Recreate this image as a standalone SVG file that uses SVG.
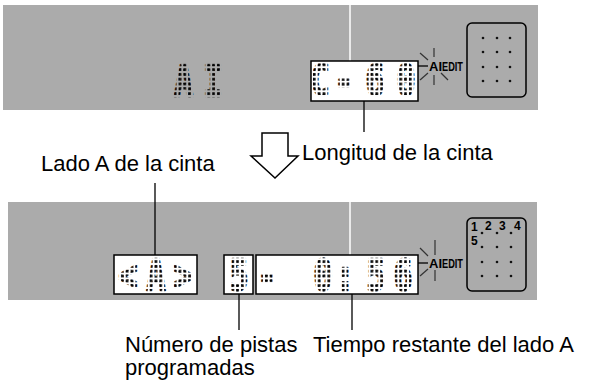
<svg xmlns="http://www.w3.org/2000/svg" width="593" height="382" viewBox="0 0 593 382">
<defs>
<pattern id="dm" patternUnits="userSpaceOnUse" width="6.4" height="4.8"><rect x="1.4" y="1.1" width="3.4" height="2.6" fill="#000"/></pattern>
<style>
.band{fill:#ababab}
.win{fill:#fff;stroke:#000;stroke-width:1.5}
.pad{fill:#ababab;stroke:#000;stroke-width:1.5}
.lcd{font-family:"DejaVu Sans Mono",monospace;font-weight:bold;font-size:42px;fill:url(#dm);stroke:url(#dm);stroke-width:2.6;stroke-linejoin:round;text-anchor:middle}
.lbl{font-family:"Liberation Sans",Arial,sans-serif;font-size:22px;fill:#000}
.badge{font-family:"Liberation Sans",Arial,sans-serif;font-weight:bold;fill:#000}
.ray{stroke:#333;stroke-width:1.2}
.ln{stroke:#000;stroke-width:1.3;fill:none}
.dot{fill:#111}
.num{font-family:"Liberation Sans",Arial,sans-serif;font-weight:bold;font-size:12px;fill:#000}
</style>
</defs>

<g id="panel-top">
<rect class="band" x="3" y="5" width="535" height="105"/>
<line x1="350" y1="5" x2="350" y2="61" stroke="#fff" stroke-width="1.5"/>
<g transform="scale(0.75,1)"><text class="lcd" x="244.7 284" y="96">AI</text></g>
<rect class="win" x="311" y="61" width="107" height="40"/>
<g transform="scale(0.75,1)"><text class="lcd" x="426.7 458.7 500 541.3" y="95">C-60</text></g>
<g id="badge-top">
<line class="ln" x1="418" y1="66" x2="428" y2="66"/>
<line class="ray" x1="434" y1="48" x2="434" y2="57"/>
<line class="ray" x1="420" y1="53" x2="428" y2="60"/>
<line class="ray" x1="420" y1="80" x2="428" y2="73"/>
<line class="ray" x1="434" y1="75" x2="434" y2="85"/>
<line class="ray" x1="448" y1="80" x2="441" y2="73"/>
<text class="badge" x="429" y="71" font-size="13">AI</text>
<text class="badge" x="442" y="71" font-size="12" textLength="21" lengthAdjust="spacingAndGlyphs">EDIT</text>
</g>
<rect class="pad" x="467" y="23" width="59" height="74" rx="5"/>
<g>
<circle class="dot" cx="483" cy="38" r="1.3"/><circle class="dot" cx="497" cy="38" r="1.3"/><circle class="dot" cx="510" cy="38" r="1.3"/>
<circle class="dot" cx="483" cy="52" r="1.3"/><circle class="dot" cx="497" cy="52" r="1.3"/><circle class="dot" cx="510" cy="52" r="1.3"/>
<circle class="dot" cx="483" cy="67" r="1.3"/><circle class="dot" cx="497" cy="67" r="1.3"/><circle class="dot" cx="510" cy="67" r="1.3"/>
<circle class="dot" cx="483" cy="81" r="1.3"/><circle class="dot" cx="497" cy="81" r="1.3"/><circle class="dot" cx="510" cy="81" r="1.3"/>
</g>
</g>

<g id="arrow">
<path d="M262,133 L288,133 L288,156 L298,156 L275,178 L251,156 L262,156 Z" fill="#fff" stroke="#000" stroke-width="1.5" stroke-linejoin="miter"/>
</g>

<g id="label-longitud"><text class="lbl" x="302" y="160">Longitud de la cinta</text></g>
<g id="label-lado"><text class="lbl" x="41" y="171">Lado A de la cinta</text></g>

<g id="panel-bottom">
<rect class="band" x="8" y="202" width="529" height="98"/>
<line x1="350" y1="202" x2="350" y2="255" stroke="#fff" stroke-width="1.5"/>
<rect class="win" x="114" y="255" width="83" height="39"/>
<g transform="scale(0.75,1)"><text class="lcd" x="170.7 208 244" y="290">&lt;A&gt;</text></g>
<rect class="win" x="224" y="255" width="29" height="39"/>
<g transform="scale(0.75,1)"><text class="lcd" x="318.7" y="290">5</text></g>
<rect class="win" x="256" y="255" width="162" height="39"/>
<g transform="scale(0.75,1)"><text class="lcd" x="356 430.7 460 501.3 537.3" y="290">-0:56</text></g>
<g id="badge-bottom">
<line class="ln" x1="418" y1="263" x2="428" y2="263"/>
<line class="ray" x1="435" y1="240" x2="435" y2="255"/>
<line class="ray" x1="420" y1="248" x2="428" y2="256"/>
<line class="ray" x1="420" y1="276" x2="428" y2="269"/>
<line class="ray" x1="435" y1="270" x2="435" y2="281"/>
<text class="badge" x="429" y="268" font-size="13">AI</text>
<text class="badge" x="442" y="268" font-size="12" textLength="21" lengthAdjust="spacingAndGlyphs">EDIT</text>
</g>
<rect class="pad" x="467" y="218" width="59" height="73" rx="5"/>
<text class="num" x="471" y="231">1</text>
<text class="num" x="485" y="230">2</text>
<text class="num" x="499" y="230">3</text>
<text class="num" x="514" y="230">4</text>
<text class="num" x="471" y="245">5</text>
<g>
<circle class="dot" cx="482" cy="233" r="1.3"/><circle class="dot" cx="497" cy="233" r="1.3"/><circle class="dot" cx="511" cy="233" r="1.3"/>
<circle class="dot" cx="482" cy="247" r="1.3"/><circle class="dot" cx="497" cy="247" r="1.3"/><circle class="dot" cx="511" cy="247" r="1.3"/>
<circle class="dot" cx="482" cy="262" r="1.3"/><circle class="dot" cx="497" cy="262" r="1.3"/><circle class="dot" cx="511" cy="262" r="1.3"/>
<circle class="dot" cx="482" cy="276" r="1.3"/><circle class="dot" cx="497" cy="276" r="1.3"/><circle class="dot" cx="511" cy="276" r="1.3"/>
</g>
</g>

<g id="label-numero"><text class="lbl" x="125" y="352">Número de pistas</text><text class="lbl" x="125" y="375">programadas</text></g>
<g id="label-tiempo"><text class="lbl" x="313" y="352">Tiempo restante del lado A</text></g>

<g id="connectors">
<line class="ln" x1="364" y1="101" x2="364" y2="132"/>
<line class="ln" x1="155" y1="183" x2="155" y2="255"/>
<line class="ln" x1="239" y1="294" x2="239" y2="330"/>
<line class="ln" x1="352" y1="294" x2="352" y2="330"/>
</g>
</svg>
